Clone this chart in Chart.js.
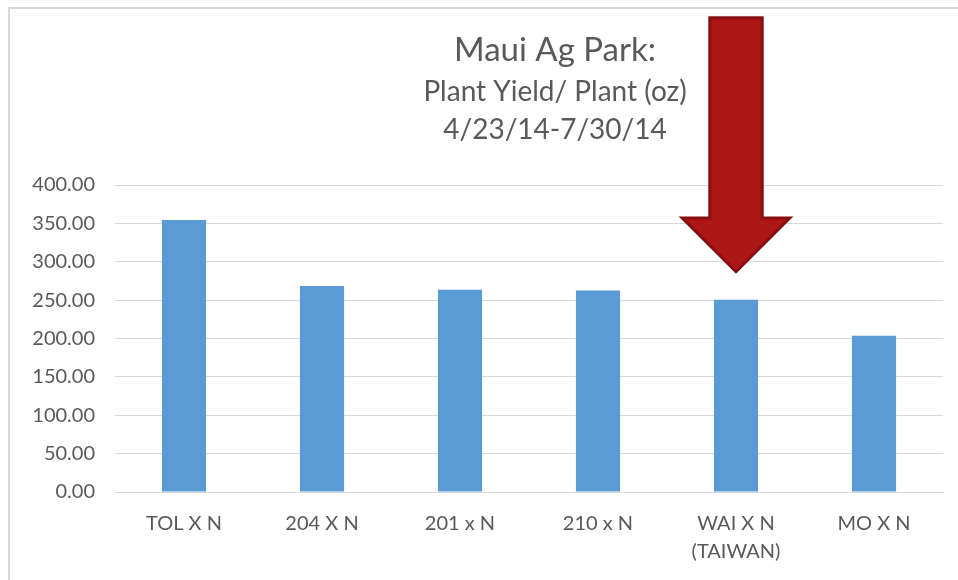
<!DOCTYPE html>
<html>
<head>
<meta charset="utf-8">
<script src="https://cdn.jsdelivr.net/npm/chart.js@4/dist/chart.umd.min.js"></script>
<style>
  html, body { margin: 0; padding: 0; background: #fff; }
  #wrap { position: relative; width: 958px; height: 580px; }
  #frame { position: absolute; left: 8px; top: 7px; right: 0; bottom: 0;
           border-left: 2px solid #d9d9d9; border-top: 2px solid #d9d9d9; }
  canvas { position: absolute; left: 0; top: 0; }
</style>
</head>
<body>
<div id="wrap">
  <div id="frame"></div>
  <canvas id="chart" width="958" height="580"></canvas>
</div>
<script>
// Chart data
var categories = ['TOL X N', '204 X N', '201 x N', '210 x N', ['WAI X N', '(TAIWAN)'], 'MO X N'];
var yieldOz = [354.5, 268.5, 263.5, 262.5, 250.5, 203.5];
var titleLines = ['Maui Ag Park:', 'Plant Yield/ Plant (oz)', '4/23/14-7/30/14'];

// which bar the red arrow points at, and where it sits in data units
var arrowIndex = 4;
var arrowTip = 287;
var arrowNeck = 357;
var arrowTop = 618;

var textColor = '#595959';
var fontFamily = "Lato, 'Open Sans', sans-serif";

// Title block drawn by hand so it can sit off-centre like the original
var titlePlugin = {
    id: 'titleBlock',
    afterDraw: function(chart) {
        var c = chart.ctx;
        c.save();
        c.fillStyle = textColor;
        c.textAlign = 'center';
        c.textBaseline = 'middle';
        c.font = '33px ' + fontFamily;
        c.fillText(titleLines[0], 555, 50);
        c.font = '28px ' + fontFamily;
        c.fillText(titleLines[1], 555, 92);
        c.fillText(titleLines[2], 555, 130);
        c.restore();
    }
};

// Big red arrow pointing at one of the bars
var arrowPlugin = {
    id: 'bigArrow',
    afterDraw: function(chart) {
        var xs = chart.scales.x, ys = chart.scales.y;
        var cx = xs.getPixelForValue(arrowIndex);
        var step = xs.width / categories.length;
        var shaftHalf = step * 0.19;
        var headHalf = step * 0.39;
        var tip = ys.getPixelForValue(arrowTip);
        var neck = ys.getPixelForValue(arrowNeck);
        var top = ys.getPixelForValue(arrowTop);
        var c = chart.ctx;
        c.save();
        c.beginPath();
        c.moveTo(cx - shaftHalf, top);
        c.lineTo(cx + shaftHalf, top);
        c.lineTo(cx + shaftHalf, neck);
        c.lineTo(cx + headHalf, neck);
        c.lineTo(cx, tip);
        c.lineTo(cx - headHalf, neck);
        c.lineTo(cx - shaftHalf, neck);
        c.closePath();
        c.fillStyle = '#ae1515';
        c.fill();
        c.lineWidth = 3;
        c.lineJoin = 'miter';
        c.strokeStyle = '#861010';
        c.stroke();
        c.restore();
    }
};

var ctx = document.getElementById('chart').getContext('2d');
var chart = new Chart(ctx, {
    type: 'bar',
    data: {
        labels: categories,
        datasets: [{
            label: 'Plant Yield/ Plant (oz)',
            data: yieldOz,
            backgroundColor: '#5b9bd5',
            borderWidth: 0,
            categoryPercentage: 1,
            barPercentage: 0.32
        }]
    },
    options: {
        responsive: false,
        animation: false,
        layout: { padding: { left: 10, right: 15, top: 185, bottom: 0 } },
        plugins: {
            legend: { display: false },
            title: { display: false },
            tooltip: { enabled: false }
        },
        scales: {
            x: {
                grid: { display: false, drawTicks: false },
                border: { color: '#d9d9d9', width: 1 },
                ticks: { color: textColor, font: { family: fontFamily, size: 20, lineHeight: 1.4 }, padding: 18, maxRotation: 0, autoSkip: false },
                afterFit: function(scale) { scale.height = 88; }
            },
            y: {
                min: 0,
                max: 400,
                grid: { color: '#d9d9d9', drawTicks: false },
                border: { display: false },
                ticks: {
                    stepSize: 50,
                    color: textColor,
                    font: { family: fontFamily, size: 20 },
                    padding: 20,
                    callback: function(v) { return v.toFixed(2); }
                },
                afterFit: function(scale) { scale.width = 105; }
            }
        }
    },
    plugins: [titlePlugin, arrowPlugin]
});
</script>
</body>
</html>
